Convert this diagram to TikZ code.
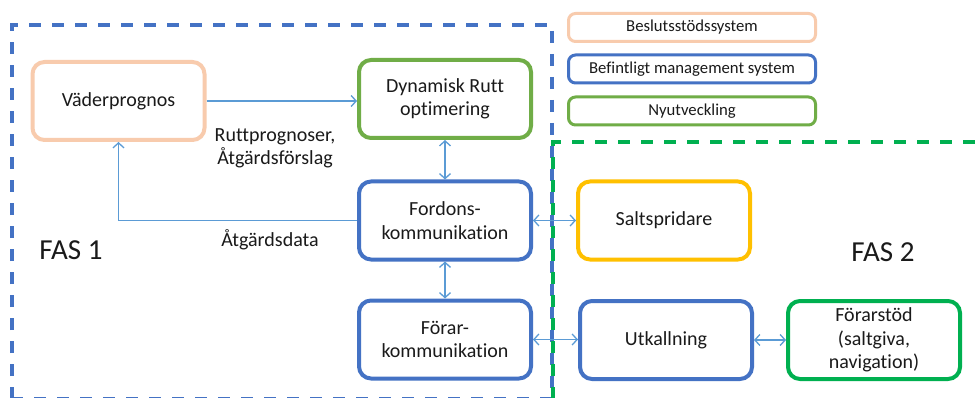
\documentclass[tikz,border=0pt]{standalone}
\usepackage{fontspec}
\setmainfont{Carlito}[Ligatures=NoCommon]
\usetikzlibrary{arrows.meta}
\definecolor{peach}{HTML}{F8CBAD}
\definecolor{mblue}{HTML}{4472C4}
\definecolor{lgreen}{HTML}{70AD47}
\definecolor{bgreen}{HTML}{00B050}
\definecolor{gold}{HTML}{FFC000}
\definecolor{arrowblue}{HTML}{5B9BD5}
\definecolor{txt}{HTML}{1A1A1A}
\begin{document}
\begin{tikzpicture}[x=1pt,y=-1pt,
 box/.style={draw, line width=4pt, rounded corners=12pt, fill=white, minimum width=172pt, minimum height=78pt, inner sep=2pt, align=center, font=\fontsize{20}{23.5}\selectfont, text=txt},
 legend/.style={draw, line width=3pt, rounded corners=7pt, fill=white, minimum width=247pt, minimum height=28pt, inner sep=0pt, font=\fontsize{16.7}{20}\selectfont, text=txt},
 conn/.style={draw=arrowblue, line width=1.3pt},
 twoway/.style={conn, {Straight Barb[length=5pt,width=11pt]}-{Straight Barb[length=5pt,width=11pt]}},
 oneway/.style={conn, -{Straight Barb[length=5pt,width=11pt]}},
 lbl/.style={font=\fontsize{20}{23}\selectfont, text=txt, align=center},
 fas/.style={font=\fontsize{29}{34}\selectfont, text=txt},
 frame/.style={line width=4pt, dash pattern=on 12pt off 11pt}
]
\useasboundingbox (0,0) rectangle (979,398);
\clip (0,0) rectangle (979,398);
\fill[white] (0,0) rectangle (979,398);

% phase frames
\draw[frame, mblue] (12,399) -- (12,25) -- (552,25) -- (552,399) -- cycle;
\draw[frame, bgreen] (553,399) -- (553,142) -- (990,142);

% legend
\node[legend, draw=peach] (l1) at (692,27.5) {Beslutsstödssystem};
\node[legend, draw=mblue] (l2) at (692,69) {Befintligt management system};
\node[legend, draw=lgreen] (l3) at (692,111) {Nyutveckling};

% boxes
\node[box, draw=peach] (vader) at (118.5,101) {Väderprognos};
\node[box, draw=lgreen] (dyn) at (445,99) {Dynamisk Rutt\\optimering};
\node[box, draw=mblue] (ford) at (445,220.5) {Fordons-\\kommunikation};
\node[box, draw=mblue] (forar) at (445,339.5) {Förar-\\kommunikation};
\node[box, draw=gold] (salt) at (664,220.5) {Saltspridare};
\node[box, draw=mblue] (utk) at (666,340) {Utkallning};
\node[box, draw=bgreen] (stod) at (874,340) {Förarstöd\\(saltgiva,\\navigation)};

% labels
\node[lbl] (lrutt) at (275,148) {Ruttprognoser,\\Åtgärdsförslag};
\node[lbl] (ldata) at (270,240) {Åtgärdsdata};
\node[fas] (fas1) at (71,250) {FAS 1};
\node[fas] (fas2) at (883,252) {FAS 2};

% connectors
\draw[oneway] (vader.east) -- (vader.east -| dyn.west);
\draw[twoway] (dyn.south) -- (ford.north);
\draw[oneway] (ford.west) -| (vader.south);
\draw[twoway] (ford.south) -- (forar.north);
\draw[twoway] (ford.east) -- (salt.west);
\draw[twoway] (forar.east) -- (forar.east -| utk.west);
\draw[twoway] (utk.east) -- (stod.west);
\end{tikzpicture}
\end{document}
